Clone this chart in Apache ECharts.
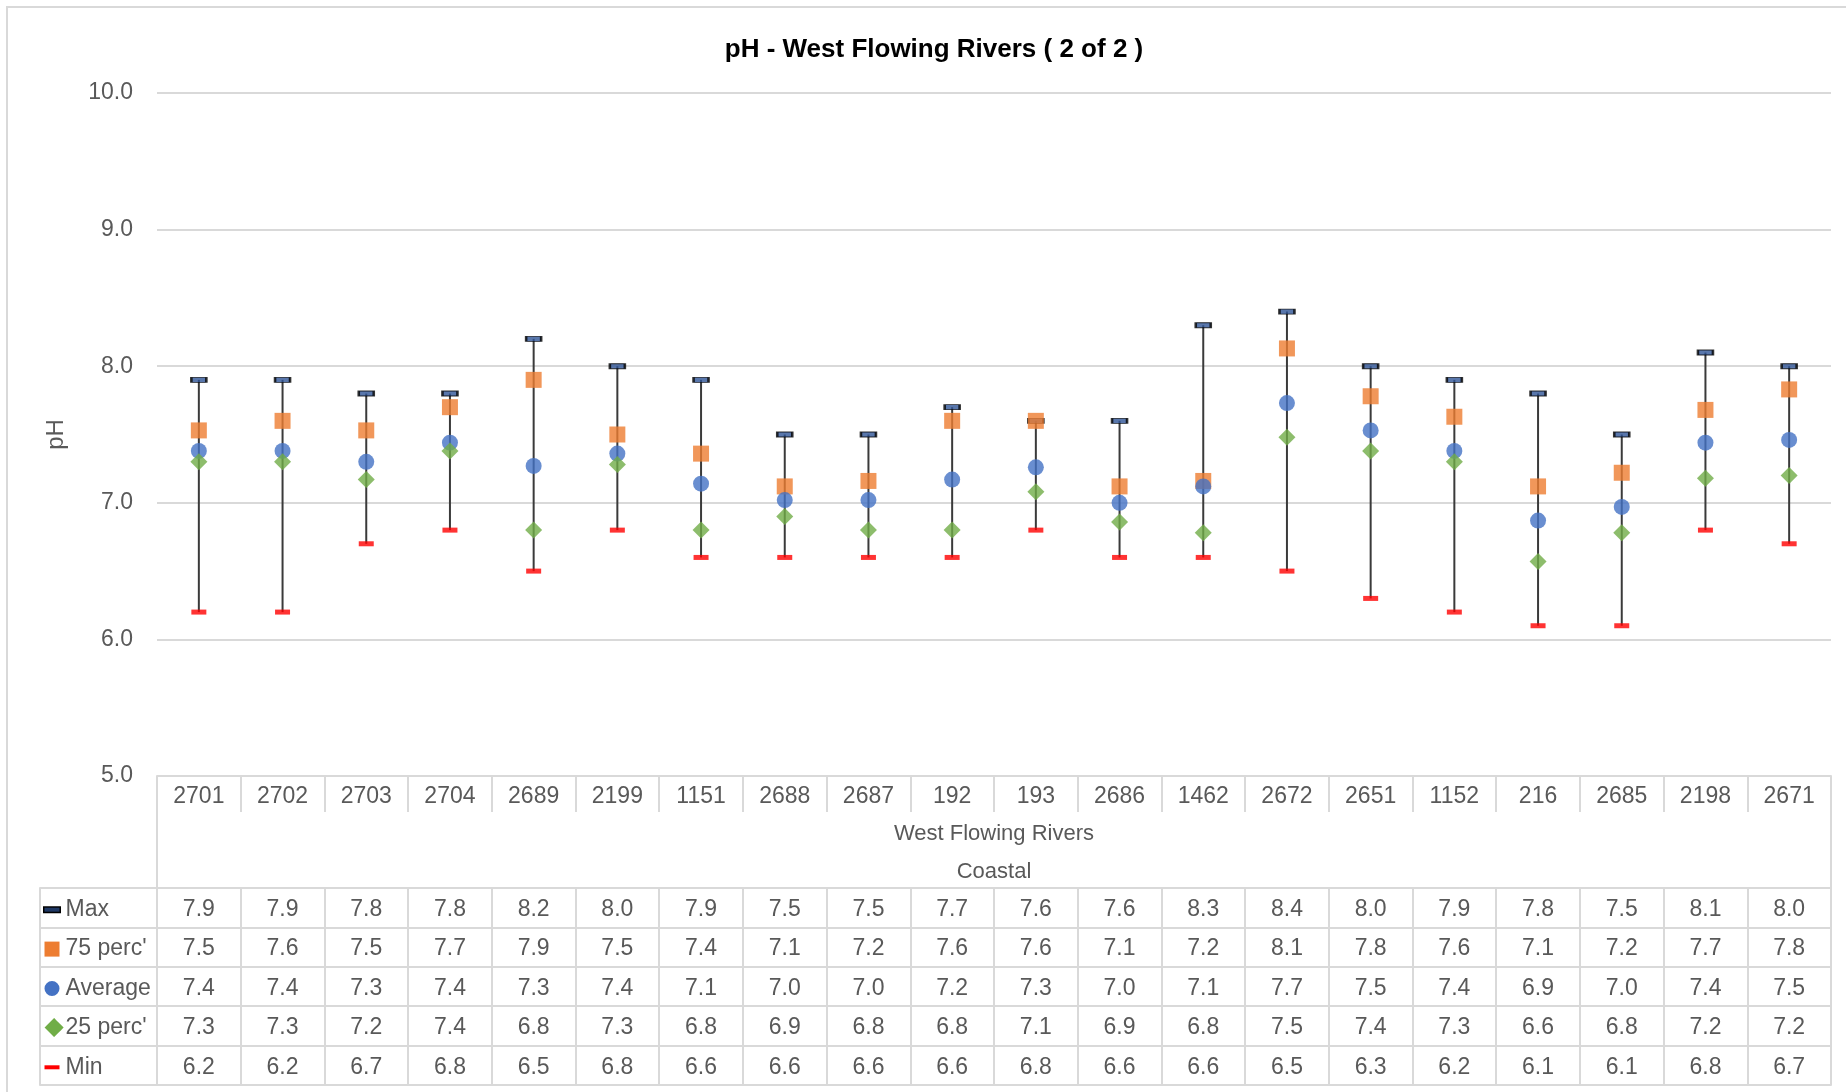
<!DOCTYPE html>
<html><head><meta charset="utf-8">
<script src="https://cdn.jsdelivr.net/npm/echarts/dist/echarts.min.js"></script>
<style>html,body{margin:0;padding:0;background:#fff}#c{width:1846px;height:1092px}</style>
</head><body><div id="c"></div>
<script>
// ---- data ----
const categories = ['2701','2702','2703','2704','2689','2199','1151','2688','2687','192','193','2686','1462','2672','2651','1152','216','2685','2198','2671'];
const maxVals = [7.9,7.9,7.8,7.8,8.2,8.0,7.9,7.5,7.5,7.7,7.6,7.6,8.3,8.4,8.0,7.9,7.8,7.5,8.1,8.0];
const p75Vals = [7.53,7.60,7.53,7.70,7.90,7.50,7.36,7.12,7.16,7.60,7.60,7.12,7.16,8.13,7.78,7.63,7.12,7.22,7.68,7.83];
const avgVals = [7.38,7.38,7.30,7.44,7.27,7.36,7.14,7.02,7.02,7.17,7.26,7.00,7.12,7.73,7.53,7.38,6.87,6.97,7.44,7.46];
const p25Vals = [7.30,7.30,7.17,7.38,6.80,7.28,6.80,6.90,6.80,6.80,7.08,6.86,6.78,7.48,7.38,7.30,6.57,6.78,7.18,7.20];
const minVals = [6.2,6.2,6.7,6.8,6.5,6.8,6.6,6.6,6.6,6.6,6.8,6.6,6.6,6.5,6.3,6.2,6.1,6.1,6.8,6.7];
const seriesNames = ['Max',"75 perc'",'Average',"25 perc'",'Min'];
const yMin = 5, yMax = 10, yStep = 1;
const groupLevel1 = 'West Flowing Rivers';
const groupLevel2 = 'Coastal';
const titleText = 'pH - West Flowing Rivers ( 2 of 2 )';
const yName = 'pH';

// ---- style / layout ----
const FONT = "'Liberation Sans Narrow','Arial Narrow','Liberation Sans',sans-serif";
const TXT = '#595959';
const LINE = '#D9D9D9';
const C_MAX = '#4472C4', C_75 = '#ED7D31', C_AVG = '#4472C4', C_25 = '#70AD47', C_MIN = '#FF0000';
const ROW_H = 39.4;
const CAT_H = 36;
const GROUP_H = 76;
const FS = 23;
const rowsData = [maxVals, p75Vals, avgVals, p25Vals, minVals];
const markerKeys = ['mMax','m75','mAvg','m25','mMin'];
const markerText = [' ',' ',' ','\u25C6',' '];

const gridMain = {left:157, right:15, top:93, bottom:316};
const gridLeg = {left:40, width:117, top:93, bottom:316};

const xAxes = [];
// category row
xAxes.push({
  type:'category', gridIndex:0, data:categories, position:'bottom', offset:0,
  axisLine:{show:true, lineStyle:{color:LINE, width:2}},
  axisTick:{show:true, interval:0, length:CAT_H, lineStyle:{color:LINE, width:2}},
  axisLabel:{interval:0, fontSize:FS, color:TXT, fontFamily:FONT, lineHeight:CAT_H, margin:3},
  splitLine:{show:false}
});
// group level
xAxes.push({
  type:'category', gridIndex:0, data:[groupLevel1], position:'bottom', offset:CAT_H,
  axisLine:{show:false},
  axisTick:{show:true, interval:0, length:GROUP_H, lineStyle:{color:LINE, width:2}},
  axisLabel:{interval:0, fontSize:22, color:TXT, fontFamily:FONT, lineHeight:38, margin:3,
    formatter: v => v + '\n' + groupLevel2}
});
const rowTop0 = CAT_H + GROUP_H;
rowsData.forEach((arr, r) => {
  xAxes.push({
    type:'category', gridIndex:0, data:categories, position:'bottom', offset:rowTop0 + r*ROW_H,
    axisLine:{show:true, lineStyle:{color:LINE, width:2}},
    axisTick:{show:true, interval:0, length:ROW_H, lineStyle:{color:LINE, width:2}},
    axisLabel:{interval:0, fontSize:FS, color:TXT, fontFamily:FONT, lineHeight:ROW_H, margin:2,
      formatter:(v, i) => arr[i].toFixed(1)}
  });
  xAxes.push({
    type:'category', gridIndex:1, data:[seriesNames[r]], position:'bottom', offset:rowTop0 + r*ROW_H,
    axisLine:{show:true, lineStyle:{color:LINE, width:2}},
    axisTick:{show:true, interval:0, length:ROW_H, lineStyle:{color:LINE, width:2}},
    axisLabel:{interval:0, margin:2, width:108, lineHeight:ROW_H,
      formatter: v => '{' + markerKeys[r] + '|' + markerText[r] + '}{t|' + v + '}',
      rich:{
        mMax:{width:15, height:4, backgroundColor:'#1F3864', borderColor:'#000', borderWidth:1.5, align:'left'},
        m75:{width:15, height:15, backgroundColor:C_75, align:'left'},
        mAvg:{width:15, height:15, backgroundColor:C_AVG, borderRadius:7.5, align:'left'},
        m25:{width:15, fontSize:25, color:C_25, align:'left', fontFamily:"'DejaVu Sans',sans-serif"},
        mMin:{width:15, height:4, backgroundColor:C_MIN, align:'left'},
        t:{fontSize:FS, color:TXT, fontFamily:FONT, padding:[0,0,0,6], align:'left', lineHeight:ROW_H}
      }}
  });
});
// bottom table line
[0,1].forEach(g => xAxes.push({
  type:'category', gridIndex:g, data: g===0 ? categories : [''], position:'bottom',
  offset:rowTop0 + rowsData.length*ROW_H,
  axisLine:{show:true, lineStyle:{color:LINE, width:2}},
  axisTick:{show:false}, axisLabel:{show:false}
}));

const scatterBase = (name, data, symbol, size, style) => ({
  name, type:'scatter', xAxisIndex:0, yAxisIndex:0, data, symbol, symbolSize:size,
  itemStyle:style, z:3
});

const option = {
  animation:false,
  backgroundColor:'#fff',
  textStyle:{fontFamily:FONT},
  title:{text:titleText, left:929, top:32, textAlign:'center',
    textStyle:{fontSize:26, fontWeight:'bold', color:'#000', fontFamily:FONT}},
  graphic:[{type:'rect', shape:{x:7, y:7, width:2000, height:2000},
    style:{fill:'none', stroke:LINE, lineWidth:2}, silent:true}],
  grid:[Object.assign({containLabel:false}, gridMain), Object.assign({containLabel:false}, gridLeg)],
  xAxis:xAxes,
  yAxis:[
    {type:'value', gridIndex:0, min:yMin, max:yMax, interval:yStep,
     axisLine:{show:false}, axisTick:{show:false},
     axisLabel:{fontSize:FS, color:TXT, fontFamily:FONT, margin:24, formatter:v => v.toFixed(1)},
     splitLine:{show:true, lineStyle:{color:LINE, width:2}},
     name:yName, nameLocation:'middle', nameGap:89, nameRotate:90,
     nameTextStyle:{fontSize:24, color:TXT, fontFamily:FONT}},
    {type:'value', gridIndex:1, show:false, min:yMin, max:yMax}
  ],
  series:[
    {type:'custom', xAxisIndex:0, yAxisIndex:0, z:2,
     data: categories.map((c,i) => [i, maxVals[i], minVals[i]]),
     encode:{x:0, y:[1,2]},
     renderItem:(params, api) => {
       const p1 = api.coord([api.value(0), api.value(1)]);
       const p2 = api.coord([api.value(0), api.value(2)]);
       return {type:'line', shape:{x1:p1[0], y1:p1[1], x2:p2[0], y2:p2[1]},
               style:{stroke:'#3A3A3A', lineWidth:2}};
     }},
    scatterBase(seriesNames[0], maxVals, 'rect', [15,5], {color:'#2F5597', borderColor:'#000', borderWidth:1.5}),
    scatterBase(seriesNames[1], p75Vals, 'rect', [16,16], {color:C_75}),
    scatterBase(seriesNames[2], avgVals, 'circle', 16, {color:C_AVG}),
    scatterBase(seriesNames[3], p25Vals, 'diamond', 17, {color:C_25}),
    scatterBase(seriesNames[4], minVals, 'rect', [15,5], {color:C_MIN})
  ]
};
const chart = echarts.init(document.getElementById('c'), null, {renderer:'canvas'});
chart.setOption(option);
</script></body></html>
